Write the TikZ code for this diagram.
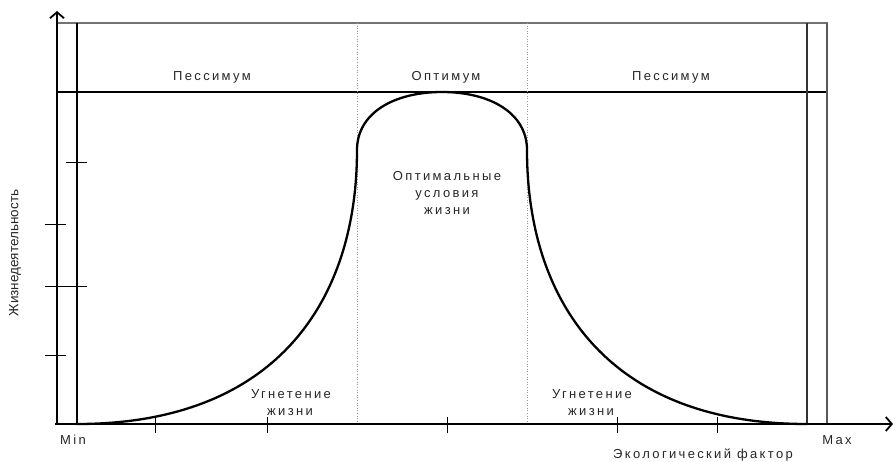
\documentclass[tikz,border=0pt]{standalone}
\usepackage{fontspec}
\setmainfont{Liberation Sans}
\newfontfamily\spaced[LetterSpace=18]{Liberation Sans}
\usetikzlibrary{arrows.meta}
\begin{document}
\begin{tikzpicture}[x=1pt,y=-1pt,
  axis/.style={line width=2.2pt,-{Straight Barb[length=6pt,width=14pt,line width=1.8pt]}},
  frame/.style={line width=1.3pt},
  grayline/.style={line width=1.3pt,draw=black!55},
  zone/.style={line width=0.6pt,draw=black!40,dotted},
  tick/.style={line width=1pt},
  curve/.style={line width=2.3pt,line join=round},
  lbl/.style={font=\spaced\fontsize{13}{15}\selectfont,anchor=base,inner sep=0pt,text=black!85}]
\useasboundingbox (0,0) rectangle (895,461);

% corner points of the chart area
\coordinate (O) at (57,424);
\coordinate (Ytop) at (57,11);
\coordinate (Xend) at (893,424);

% outer frame and zone separators
\draw[grayline] (56,23) -- (828,23);
\draw[frame] (56,92) -- (828,92);
\draw[frame] (77,23) -- (77,424);
\draw[frame,draw=black!80] (807,23) -- (807,424);
\draw[grayline,draw=black!65] (827,23) -- (827,424);
\draw[zone] (357,23) -- (357,424);
\draw[zone] (527,23) -- (527,424);

% axes
\draw[axis] (O) -- (Ytop);
\draw[axis,line width=1.8pt] (55,424) -- (Xend);

% ticks on the factor axis
\foreach \t in {155,267,447,617,717}
  \draw[tick] (\t,417) -- (\t,433);
% ticks on the vitality axis
\draw[tick] (66,162) -- (87,162);
\draw[tick] (45,224) -- (66,224);
\draw[tick] (45,286) -- (87,286);
\draw[tick] (45,355) -- (66,355);

% tolerance curve
\draw[curve] (77,424) .. controls (277,424) and (357,300) .. (357,150)
  .. controls (357,113) and (394,92) .. (442,92)
  .. controls (490,92) and (527,113) .. (527,150)
  .. controls (527,300) and (607,424) .. (807,424);

% zone names
\node[lbl] (pessL) at (212,80) {Пессимум};
\node[lbl] (opt) at (446,80) {Оптимум};
\node[lbl] (pessR) at (671,80) {Пессимум};

\node[lbl] (optA) at (447,180) {Оптимальные};
\node[lbl] (optB) at (447,197) {условия};
\node[lbl] (optC) at (447,214) {жизни};

\node[lbl] (depLA) at (291,398) {Угнетение};
\node[lbl] (depLB) at (290,415) {жизни};
\node[lbl] (depRA) at (592,398) {Угнетение};
\node[lbl] (depRB) at (591,415) {жизни};

\node[lbl] (min) at (73,444) {Min};
\node[lbl] (max) at (837,444) {Max};
\node[lbl] (xname) at (703,458) {Экологический фактор};

\node[font=\fontsize{13.5}{15}\selectfont,rotate=90,inner sep=0pt,text=black!85] (yname) at (15,253) {Жизнедеятельность};
\end{tikzpicture}
\end{document}
